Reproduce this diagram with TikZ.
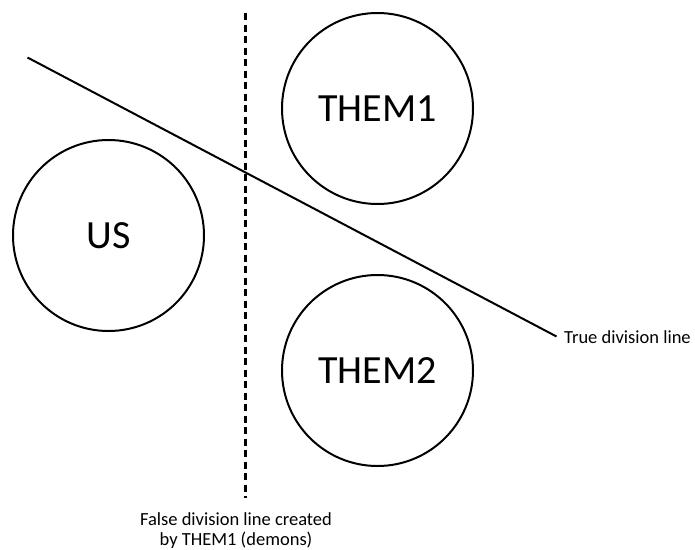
\documentclass[tikz,border=0pt]{standalone}
\usepackage{fontspec}
\setmainfont{Carlito}
\usepackage{tikz}
\usetikzlibrary{calc}

\tikzset{
  group/.style={draw, circle, line width=2pt, minimum size=191pt, inner sep=0pt,
    font=\fontsize{40}{44}\selectfont},
  note/.style={inner sep=0pt, font=\fontsize{18.5}{20}\selectfont}
}

\begin{document}
\begin{tikzpicture}[x=1pt,y=-1pt]
\useasboundingbox (0,0) rectangle (695,549);
\coordinate (A) at (27.5,57.5);
\coordinate (B) at (556.5,336.5);
\coordinate (C) at (245.5,13);
\coordinate (D) at (245.5,498);
\draw (108.5,235.5) node[group] (us){US};
\draw (377.5,108.5) node[group] (themone){THEM1};
\draw (377.5,370.5) node[group] (themtwo){THEM2};
\draw[line width=2pt] (A) -- (B);
\draw[line width=2.4pt, dash pattern=on 7pt off 4.5pt] (C) -- (D);
\draw ($(B)+(7.5,6.5)$) node[note, anchor=base west] (trueline){True division line};
\draw ($(D)+(-9.5,47)$) node[note, anchor=base, align=center] (falseline){False division line created\\by THEM1 (demons)};
\end{tikzpicture}
\end{document}
